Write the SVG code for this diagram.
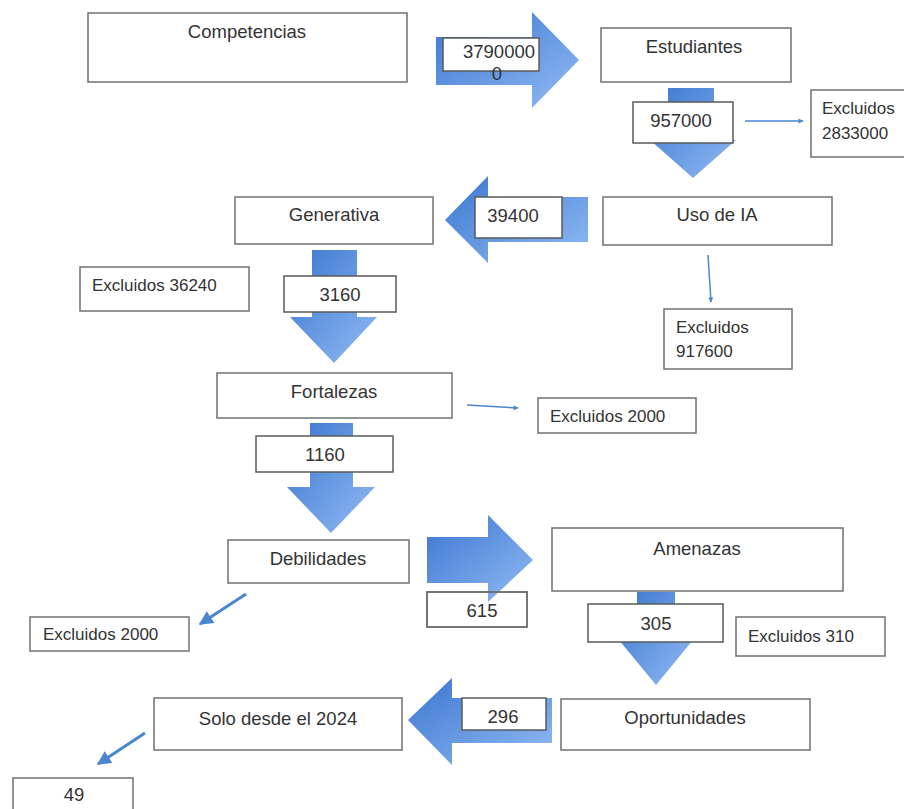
<svg xmlns="http://www.w3.org/2000/svg" width="904" height="809" viewBox="0 0 904 809">
<defs>
<linearGradient id="blue" x1="0" y1="0" x2="1" y2="1">
<stop offset="0" stop-color="#3a76cf"/>
<stop offset="1" stop-color="#92bbf4"/>
</linearGradient>
<marker id="ah" viewBox="0 0 10 10" refX="9" refY="5" markerWidth="7" markerHeight="5" orient="auto" markerUnits="userSpaceOnUse">
<path d="M0,0 L10,5 L0,10 z" fill="#4a86d0"/>
</marker>
<marker id="ahb" viewBox="0 0 10 10" refX="9" refY="5" markerWidth="16" markerHeight="14" orient="auto" markerUnits="userSpaceOnUse">
<path d="M0,0 L10,5 L0,10 z" fill="#4a86d0"/>
</marker>
</defs>
<style>
.box{fill:#fff;stroke:#707070;stroke-width:1.5}
.lbl{fill:#fff;stroke:#5a5a5a;stroke-width:1.5}
.t{font-family:"Liberation Sans",Arial,sans-serif;font-size:18.5px;fill:#333;text-anchor:middle}
.tl{font-family:"Liberation Sans",Arial,sans-serif;font-size:17px;fill:#333}
.blk{fill:url(#blue)}
.thin{stroke:#4a86d0;stroke-width:1.5;fill:none;marker-end:url(#ah)}
.thick{stroke:#4a86d0;stroke-width:3;fill:none;marker-end:url(#ahb)}
</style>
<rect width="904" height="809" fill="#fff"/>

<g id="connectors">
<g id="arrow-competencias-estudiantes">
<path class="blk" d="M436,37 H532 V12 L579,60 L532,108 V85 H436 Z"/>
<rect class="lbl" x="443" y="38" width="96" height="33"/>
<text class="t" x="499" y="58">3790000</text>
<text class="t" x="497" y="80">0</text>
</g>
<g id="arrow-estudiantes-uso">
<path class="blk" d="M668,88 H714 V140 H736 L693,178 L650,140 H668 Z"/>
<rect class="lbl" x="633" y="102" width="100" height="41"/>
<text class="t" x="681" y="127">957000</text>
</g>
<path class="thin" d="M745,121 H803"/>
<g id="arrow-uso-generativa">
<path class="blk" d="M588,197 V242 H488 V263 L445,220 L488,176 V197 Z"/>
<rect class="lbl" x="475" y="197" width="87" height="41"/>
<text class="t" x="513" y="222">39400</text>
</g>
<path class="thin" d="M708,255 L711,302"/>
<g id="arrow-generativa-fortalezas">
<path class="blk" d="M312,250 H357 V317 H377 L334,363 L290,317 H312 Z"/>
<rect class="lbl" x="284" y="276" width="112" height="36"/>
<text class="t" x="340" y="301">3160</text>
</g>
<path class="thin" d="M467,405 L518,408"/>
<g id="arrow-fortalezas-debilidades">
<path class="blk" d="M310,423 H353 V487 H375 L331,533 L287,487 H310 Z"/>
<rect class="lbl" x="256" y="436" width="137" height="36"/>
<text class="t" x="325" y="461">1160</text>
</g>
<path class="thick" d="M246,594 L200,624"/>
<g id="arrow-debilidades-amenazas">
<path class="blk" d="M427,537 H488 V515 L533,560 L488,602 V583 H427 Z"/>
<rect class="lbl" x="427" y="592" width="100" height="35" fill-opacity="0" style="fill:none"/>
<text class="t" x="482" y="617">615</text>
</g>
<g id="arrow-amenazas-oportunidades">
<path class="blk" d="M637,592 H675 V640 H693 L656,685 L619,640 H637 Z"/>
<rect class="lbl" x="588" y="604" width="135" height="38"/>
<text class="t" x="656" y="630">305</text>
</g>
<g id="arrow-oportunidades-solo">
<path class="blk" d="M552,698 V743 H452 V765 L408,720 L452,678 V698 Z"/>
<rect class="lbl" x="462" y="698" width="84" height="32"/>
<text class="t" x="503" y="723">296</text>
</g>
<path class="thick" d="M145,733 L98,764"/>
</g>

<g id="competencias"><rect class="box" x="88" y="13" width="319" height="69"/><text class="t" x="247" y="38">Competencias</text></g>
<g id="estudiantes"><rect class="box" x="601" y="28" width="190" height="54"/><text class="t" x="694" y="53">Estudiantes</text></g>
<g id="excluidos-2833000"><rect class="box" x="811" y="90" width="100" height="67"/><text class="tl" x="822" y="114">Excluidos</text><text class="tl" x="822" y="139">2833000</text></g>
<g id="generativa"><rect class="box" x="235" y="197" width="198" height="47"/><text class="t" x="334" y="221">Generativa</text></g>
<g id="uso-de-ia"><rect class="box" x="603" y="197" width="229" height="48"/><text class="t" x="717" y="221">Uso de IA</text></g>
<g id="excluidos-917600"><rect class="box" x="664" y="309" width="128" height="60"/><text class="tl" x="676" y="333">Excluidos</text><text class="tl" x="676" y="357">917600</text></g>
<g id="excluidos-36240"><rect class="box" x="80" y="267" width="169" height="44"/><text class="tl" x="92" y="291">Excluidos 36240</text></g>
<g id="fortalezas"><rect class="box" x="217" y="373" width="235" height="45"/><text class="t" x="334" y="398">Fortalezas</text></g>
<g id="excluidos-2000-a"><rect class="box" x="538" y="398" width="158" height="35"/><text class="tl" x="550" y="422">Excluidos 2000</text></g>
<g id="debilidades"><rect class="box" x="228" y="540" width="181" height="43"/><text class="t" x="318" y="565">Debilidades</text></g>
<g id="excluidos-2000-b"><rect class="box" x="30" y="617" width="159" height="34"/><text class="tl" x="43" y="640">Excluidos 2000</text></g>
<g id="label-615"><rect class="box" x="427" y="592" width="100" height="35" style="fill:none"/></g>
<g id="amenazas"><rect class="box" x="552" y="528" width="291" height="63"/><text class="t" x="697" y="555">Amenazas</text></g>
<g id="excluidos-310"><rect class="box" x="736" y="617" width="149" height="39"/><text class="tl" x="748" y="642">Excluidos 310</text></g>
<g id="oportunidades"><rect class="box" x="561" y="699" width="249" height="51"/><text class="t" x="685" y="724">Oportunidades</text></g>
<g id="solo-desde-2024"><rect class="box" x="154" y="698" width="248" height="52"/><text class="t" x="278" y="725">Solo desde el 2024</text></g>
<g id="resultado-49"><rect class="box" x="13" y="778" width="120" height="40"/><text class="t" x="74" y="801">49</text></g>
</svg>
